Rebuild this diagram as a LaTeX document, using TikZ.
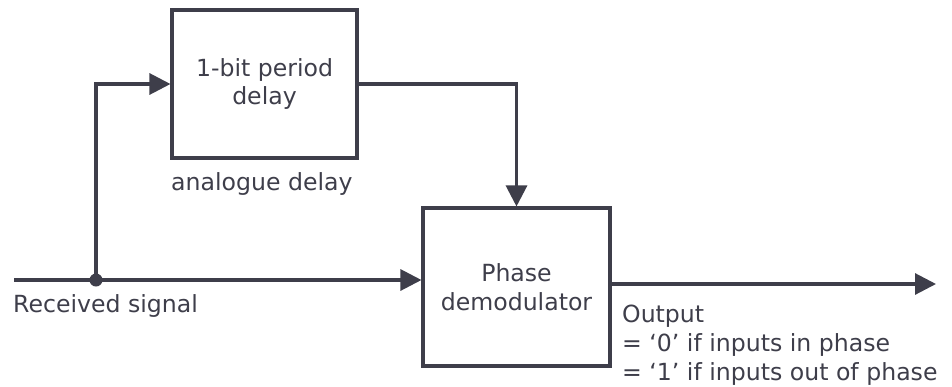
\documentclass[tikz,border=0pt]{standalone}
\usepackage{fontspec}
\setmainfont{DejaVu Sans}
\usetikzlibrary{arrows.meta}
\definecolor{ink}{HTML}{3E3E4A}
\begin{document}
\begin{tikzpicture}[x=1pt,y=-1pt,
  txt/.style={text=ink, font=\fontsize{23.6}{28.5}\selectfont},
  blk/.style={txt, draw=ink, line width=3.05pt, align=center, inner sep=0pt},
  lbl/.style={txt, anchor=base west, inner sep=0pt},
  conn/.style={draw=ink, line width=3.05pt},
  arr/.style={conn, -{Triangle[length=21pt,width=21pt]}}]
\useasboundingbox (0,0) rectangle (952,386);
\node[blk, minimum width=185pt, minimum height=148pt] (d) at (264.5,84) {1-bit period\\delay};
\node[blk, minimum width=187pt, minimum height=158pt] (p) at (516.5,287) {Phase\\demodulator};
\coordinate (s) at (14,280);
\coordinate (j) at (96,280);
\coordinate (e) at (936,284);
\draw[conn] (s) -- (j);
\draw[arr] (j) -- (j -| p.west);
\draw[arr] (j) |- (d.west);
\draw[arr] (d.east) -| (p.north);
\draw[arr] (p.east |- e) -- (e);
\fill[ink] (j) circle (6.5);
\node[lbl] (rs) at (13,312) {Received signal};
\node[lbl] (ad) at (171,190) {analogue delay};
\node[lbl] (o1) at (622,322) {Output};
\node[lbl] (o2) at (622,351) {= `0' if inputs in phase};
\node[lbl] (o3) at (622,380) {= `1' if inputs out of phase};
\end{tikzpicture}
\end{document}
